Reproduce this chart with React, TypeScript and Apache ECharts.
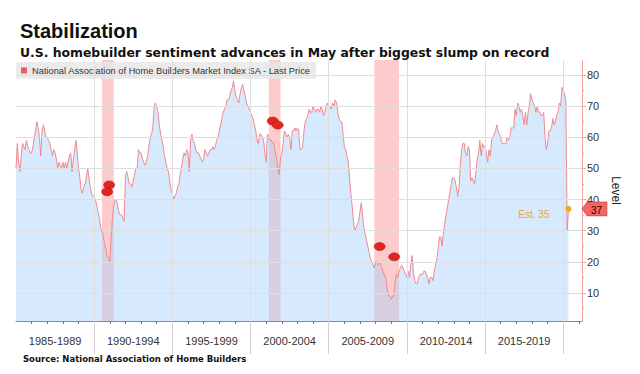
import React, { useEffect, useRef } from 'react';
import * as echarts from 'echarts';

const TITLE = 'Stabilization';
const SUBTITLE = 'U.S. homebuilder sentiment advances in May after biggest slump on record';
const SOURCE = 'Source: National Association of Home Builders';
const SERIES_NAME = 'National Association of Home Builders Market Index SA - Last Price';

const START_YEAR = 1985;
const hmi1985to1989 = [
  50, 58, 52, 49, 54, 58, 57, 56, 59, 57, 56, 55,
  55, 57, 60, 62, 65, 63, 60, 54, 62, 64, 62, 60,
  60, 59, 58, 56, 54, 56, 55, 53, 50, 52, 51, 50,
  52, 50, 52, 50, 52, 54, 55, 49, 53, 56, 59, 55,
  50, 47, 43, 42, 44, 45, 47, 50, 47, 44, 42, 41,
];
const hmi1990to1994 = [
  41, 40, 38, 36, 34, 31, 30, 28, 26, 24, 22, 21,
  20, 27, 34, 38, 40, 40, 38, 36, 35, 35, 34, 33,
  48, 49, 47, 45, 45, 44, 46, 48, 50, 50, 56, 55,
  55, 53, 52, 51, 52, 54, 57, 60, 61, 63, 70, 71,
  70, 68, 64, 61, 59, 57, 54, 52, 50, 49, 46, 43,
];
const hmi1995to1999 = [
  42, 40, 41, 42, 44, 45, 48, 50, 53, 55, 54, 56,
  55, 49, 59, 61, 59, 58, 56, 55, 55, 54, 53, 52,
  53, 56, 55, 54, 55, 56, 56, 57, 56, 57, 59, 60,
  62, 64, 66, 68, 69, 70, 72, 72, 73, 75, 76, 78,
  75, 73, 72, 71, 74, 76, 77, 75, 73, 71, 70, 69,
];
const hmi2000to2004 = [
  68, 67, 66, 64, 62, 59, 58, 61, 61, 60, 59, 55,
  52, 61, 60, 59, 59, 58, 58, 55, 53, 50, 48, 53,
  55, 58, 62, 61, 60, 61, 60, 56, 62, 62, 63, 62,
  63, 62, 56, 56, 57, 62, 65, 66, 67, 69, 68, 68,
  70, 69, 68, 69, 69, 68, 70, 69, 67, 68, 70, 71,
];
const hmi2005to2009 = [
  70, 70, 69, 71, 70, 72, 71, 68, 66, 65, 65, 61,
  57, 56, 54, 52, 47, 42, 38, 33, 30, 31, 32, 33,
  36, 39, 35, 31, 29, 27, 25, 23, 21, 20, 19, 18,
  20, 20, 19, 20, 19, 18, 16, 16, 14, 11, 9, 9,
  8, 9, 9, 14, 16, 15, 17, 18, 19, 18, 17, 16,
];
const hmi2010to2014 = [
  15, 17, 15, 19, 22, 17, 14, 13, 13, 15, 16, 16,
  16, 17, 17, 16, 15, 13, 15, 15, 14, 17, 19, 21,
  24, 28, 28, 25, 29, 32, 35, 37, 40, 42, 45, 47,
  47, 46, 44, 41, 44, 51, 56, 58, 58, 55, 54, 57,
  56, 46, 47, 46, 45, 49, 53, 55, 59, 54, 58, 57,
];
const hmi2015to2019 = [
  57, 55, 52, 56, 54, 59, 60, 61, 62, 64, 62, 61,
  60, 58, 58, 58, 58, 60, 59, 60, 63, 63, 63, 69,
  67, 71, 70, 68, 69, 67, 64, 68, 64, 68, 70, 74,
  72, 71, 70, 68, 70, 68, 68, 67, 67, 68, 60, 56,
  58, 62, 62, 63, 66, 64, 65, 67, 68, 71, 70, 76,
];
const hmi2020 = [75, 74, 72, 30, 37];

const recessions = [
  [1990.5, 1991.25],
  [2001.17, 2001.92],
  [2007.92, 2009.5],
];
const eventMarks = [
  [1990.96, 44.7],
  [1990.83, 42.5],
  [2001.42, 65.2],
  [2001.74, 63.9],
  [2008.26, 24.9],
  [2009.19, 21.6],
];
const periodLabels = ['1985-1989', '1990-1994', '1995-1999', '2000-2004', '2005-2009', '2010-2014', '2015-2019'];
const periodCenters = [1987.5, 1992.5, 1997.5, 2002.5, 2007.5, 2012.5, 2017.5];
const periodBounds = [1990, 1995, 2000, 2005, 2010, 2015, 2020];
const yearTicks = [
  1986, 1987, 1988, 1989, 1990, 1991, 1992, 1993, 1994, 1995, 1996, 1997,
  1998, 1999, 2000, 2001, 2002, 2003, 2004, 2005, 2006, 2007, 2008, 2009,
  2010, 2011, 2012, 2013, 2014, 2015, 2016, 2017, 2018, 2019, 2020, 2021,
];
const yTicks = [10, 20, 30, 40, 50, 60, 70, 80];
const yMinorTicks = [5, 15, 25, 35, 45, 55, 65, 75];
const X_MIN = 1985;
const X_MAX = 2021.2;
const Y_MIN = 1;
const Y_MAX = 84.8;
const lastPrice = 37;
const estimateText = 'Est. 35';

export default function App() {
  const ref = useRef<HTMLDivElement>(null);

  useEffect(() => {
    if (!ref.current) return;
    const chart = echarts.init(ref.current, null, { renderer: 'svg' });
    const values = [
      ...hmi1985to1989, ...hmi1990to1994, ...hmi1995to1999, ...hmi2000to2004,
      ...hmi2005to2009, ...hmi2010to2014, ...hmi2015to2019, ...hmi2020,
    ];
    const points = values.map((v, i) => [START_YEAR + i / 12, v]);
    const last = points[points.length - 1];

    chart.setOption({
      animation: false,
      textStyle: { fontFamily: 'Liberation Sans' },
      title: [
        { text: TITLE, left: 15, top: 16, textStyle: { fontSize: 20, fontWeight: 'bold', color: '#111' } },
        { text: SUBTITLE, left: 15, top: 41, textStyle: { fontSize: 12.4, fontWeight: 'bold', color: '#111', fontFamily: 'DejaVu Sans' } },
        { text: SOURCE, left: 18, top: 349, textStyle: { fontSize: 8.5, fontWeight: 'bold', color: '#111', fontFamily: 'DejaVu Sans' } },
      ],
      legend: {
        data: [{ name: SERIES_NAME, itemStyle: { color: '#f05a5a' } }],
        left: 16,
        top: 62,
        icon: 'rect',
        itemWidth: 6,
        itemHeight: 6,
        padding: [4, 5, 4, 5],
        backgroundColor: 'rgba(232,232,232,0.85)',
        textStyle: { fontSize: 9.3, color: '#333' },
        selectedMode: false,
      },
      grid: { left: 16, right: 58, top: 60, bottom: 53 },
      xAxis: [
        {
          type: 'value', min: X_MIN, max: X_MAX,
          axisLine: { show: true, lineStyle: { color: '#888' } },
          axisTick: { show: true, customValues: yearTicks, length: 3, lineStyle: { color: '#777' } },
          axisLabel: {
            customValues: periodCenters,
            formatter: (v: number) => periodLabels[periodCenters.indexOf(v)] ?? '',
            color: '#333', fontSize: 11, margin: 14,
          },
          splitLine: { show: false },
        },
        {
          type: 'value', min: X_MIN, max: X_MAX, position: 'bottom',
          axisLine: { show: false },
          axisTick: { show: true, customValues: periodBounds, length: 33, lineStyle: { color: '#d0d0d0' } },
          axisLabel: { show: false },
          splitLine: { show: false },
        },
      ],
      yAxis: [
        {
          type: 'value', min: Y_MIN, max: Y_MAX, position: 'right',
          name: 'Level', nameLocation: 'middle', nameRotate: -90, nameGap: 28,
          nameTextStyle: { fontSize: 12, color: '#222' },
          axisLine: { show: true, lineStyle: { color: '#f2a0a0' } },
          axisTick: { show: true, customValues: yTicks, length: 4, lineStyle: { color: '#f2a0a0' } },
          axisLabel: { customValues: yTicks, color: '#333', fontSize: 11, margin: 5 },
          splitLine: { show: false },
        },
        {
          type: 'value', min: Y_MIN, max: Y_MAX, position: 'right',
          axisLine: { show: false },
          axisTick: { show: true, customValues: yMinorTicks, length: 2, lineStyle: { color: '#f2a0a0' } },
          axisLabel: { show: false },
          splitLine: { show: false },
        },
      ],
      series: [
        {
          name: 'gridlines', type: 'line', data: [], silent: true, z: 1,
          markLine: {
            silent: true, symbol: ['none', 'none'], label: { show: false },
            lineStyle: { color: '#dedede', width: 1, type: 'solid' },
            emphasis: { disabled: true },
            data: [
              ...yTicks.map((v) => ({ yAxis: v })),
              ...periodBounds.map((v) => ({ xAxis: v })),
            ],
          },
        },
        {
          name: SERIES_NAME, type: 'line', data: points, showSymbol: false, symbol: 'none', z: 2,
          lineStyle: { color: '#ee8a8f', width: 1 },
          areaStyle: { color: 'rgba(176,212,250,0.72)', origin: 'start' },
          markArea: {
            silent: true,
            itemStyle: { color: 'rgba(250,105,105,0.35)' },
            data: recessions.map(([a, b]) => [{ xAxis: a }, { xAxis: b }]),
          },
          markPoint: {
            silent: true,
            data: [
              ...eventMarks.map(([x, y]) => ({
                coord: [x, y], symbol: 'circle', symbolSize: [11, 8],
                itemStyle: { color: '#e1261f', borderColor: '#a01010', borderWidth: 0.5 },
                label: { show: false },
              })),
              {
                coord: last, symbol: 'circle', symbolSize: 6,
                itemStyle: { color: '#f5a623' },
                label: { show: true, formatter: estimateText, position: 'left', distance: 16, offset: [0, 6], color: '#e9a33f', fontSize: 10 },
              },
              {
                coord: [X_MAX, lastPrice], symbol: 'path://M0,7L5,0L25,0L25,14L5,14Z',
                symbolSize: [25, 14], symbolOffset: [12.5, 0], symbolKeepAspect: false,
                itemStyle: { color: '#f26565', borderColor: '#c83232', borderWidth: 0.5 },
                label: { show: true, formatter: String(lastPrice), position: 'inside', offset: [2, 1.5], color: '#3b0000', fontSize: 10 },
              },
            ],
          },
        },
      ],
    });

    return () => chart.dispose();
  }, []);

  return <div ref={ref} style={{ position: 'fixed', left: 0, top: 0, width: 640, height: 374, background: '#fff' }} />;
}
